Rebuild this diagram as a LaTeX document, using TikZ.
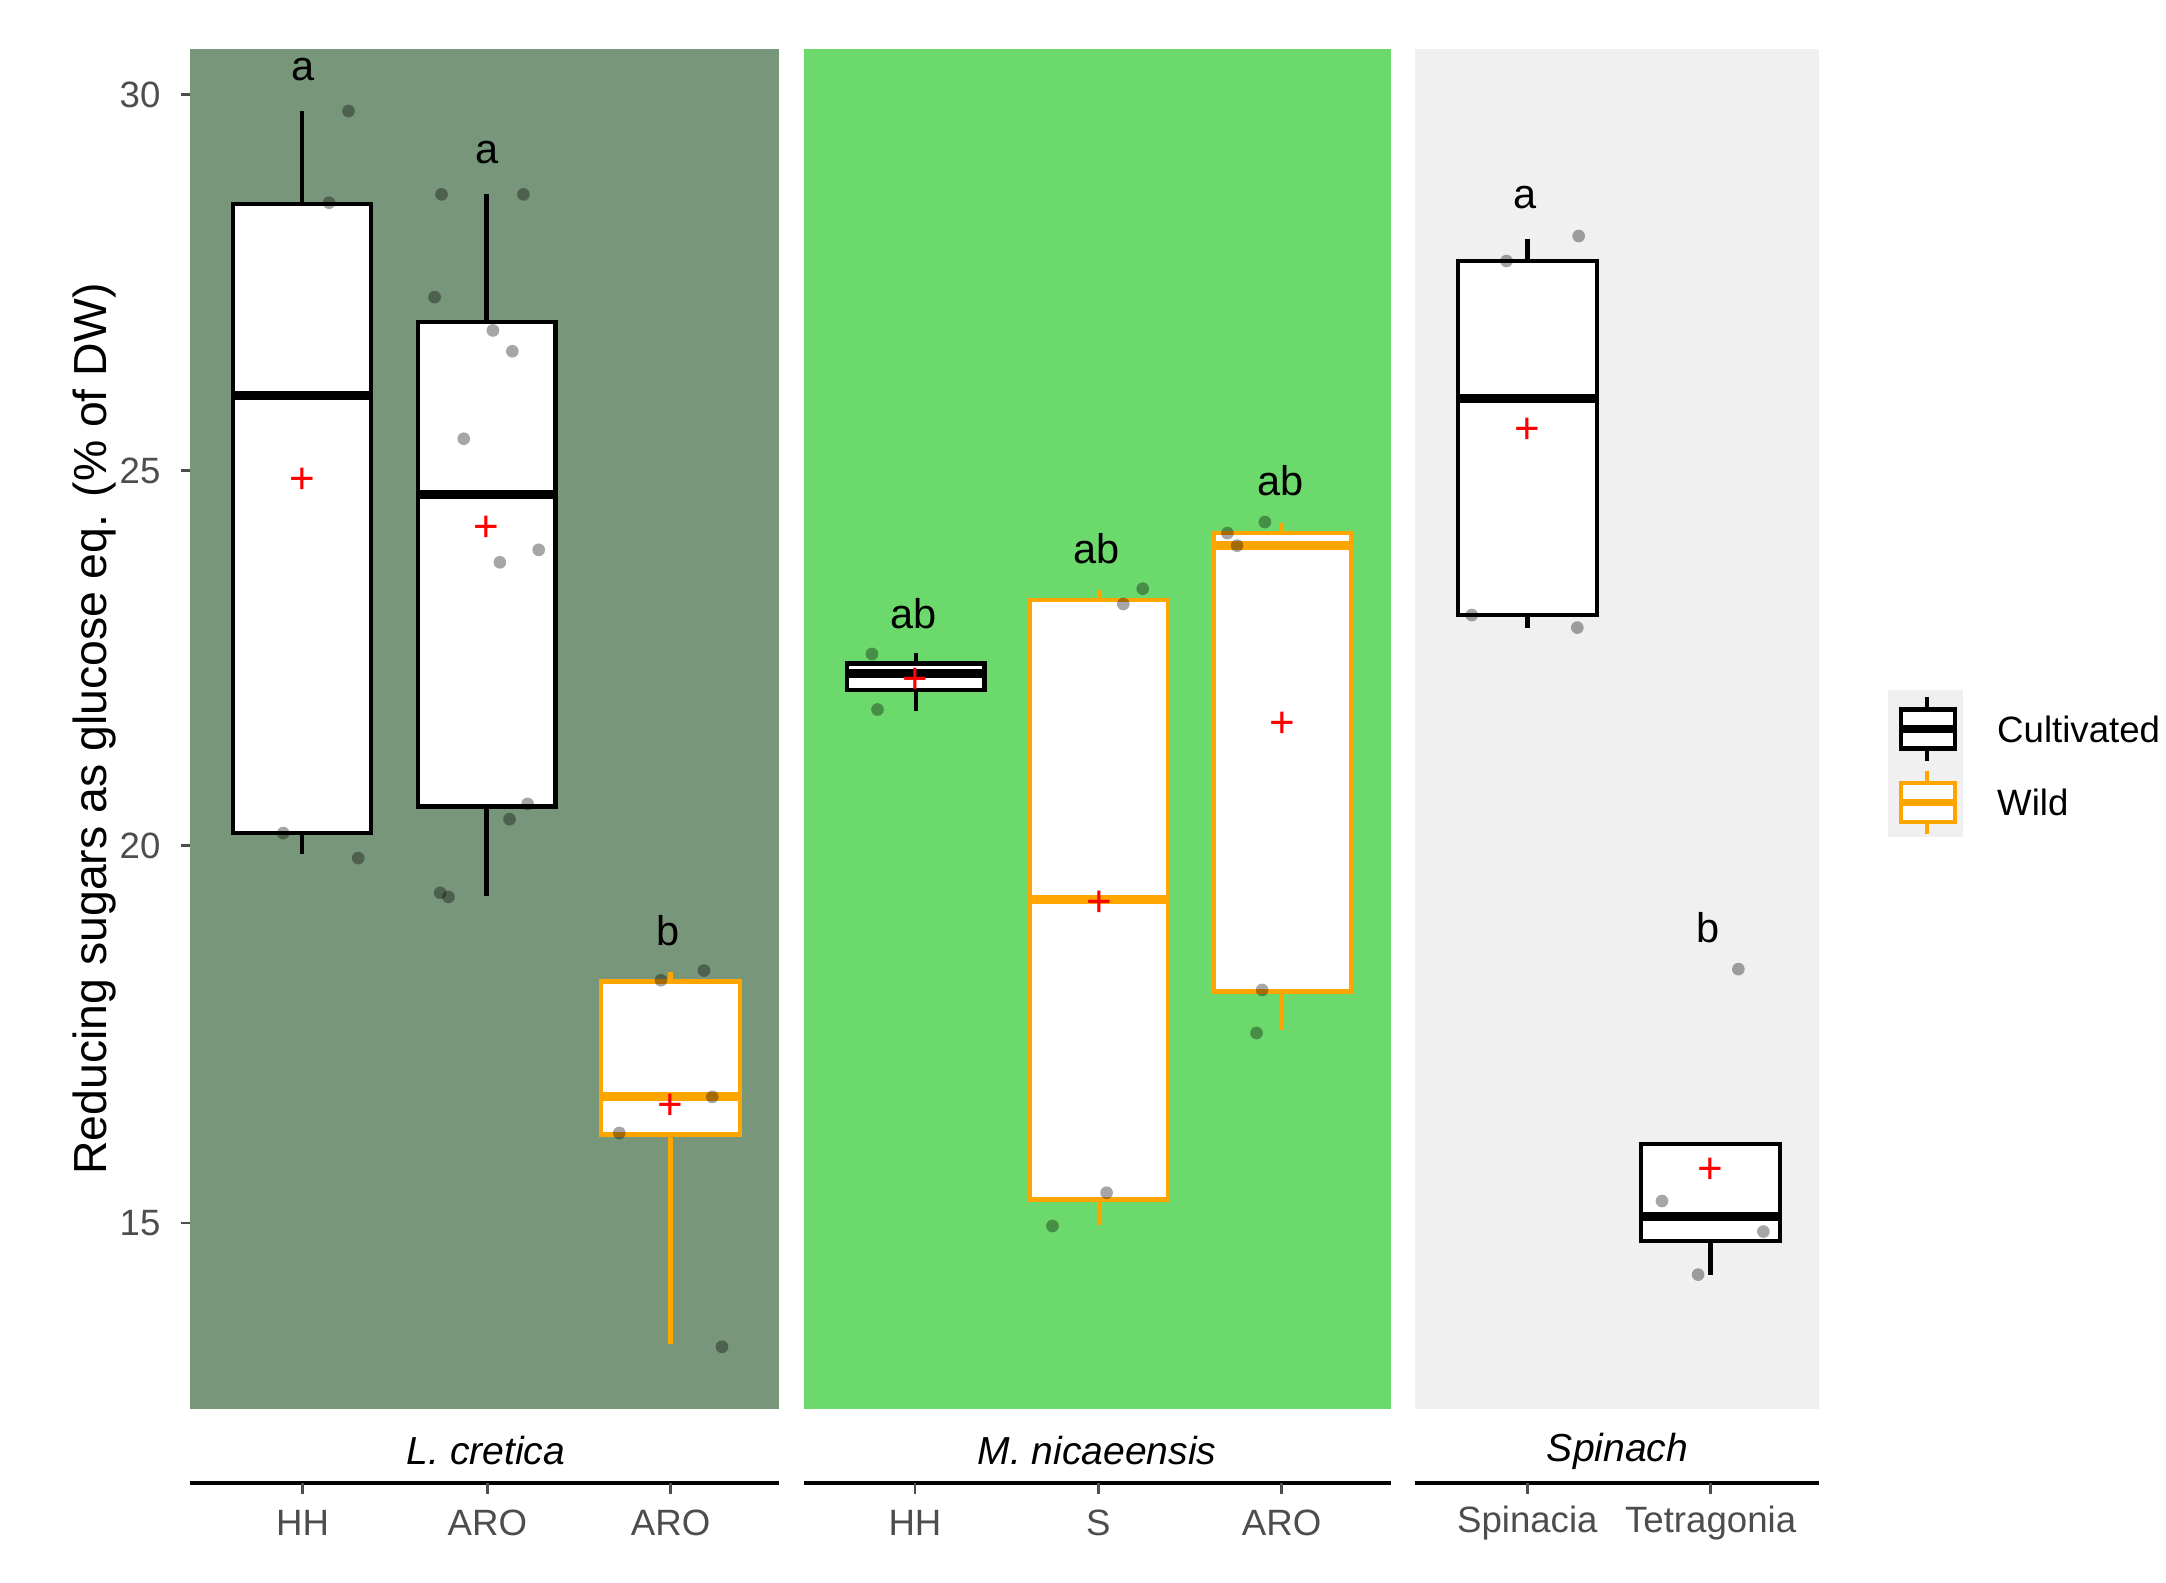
\documentclass[tikz,border=0pt]{standalone}
\usepackage{fontspec}
\setmainfont{Liberation Sans}
\definecolor{pLc}{HTML}{78967A}
\definecolor{pMn}{HTML}{6CD96C}
\definecolor{pSp}{HTML}{F0F0F0}
\definecolor{orw}{HTML}{FFA500}
\definecolor{tickg}{HTML}{4D4D4D}
\newcommand{\bxplot}[9]{%
  \pgfmathsetmacro{\cx}{(#1+#2)/2}
  \draw[line width=0.9pt,#9] (\cx,#3) -- (\cx,#4);
  \draw[line width=0.9pt,#9] (\cx,#6) -- (\cx,#7);
  \draw[line width=0.9pt,#9,fill=white] (#1,#4) rectangle (#2,#6);
  \draw[line width=1.8pt,#9] (#1,#5) -- (#2,#5);
  \node[red,font=\fontsize{9}{9}\selectfont,inner sep=0pt] at (\cx,#8) {+};
}
\tikzset{pt/.style={circle,fill=black,fill opacity=0.35,inner sep=0pt,minimum size=2.6pt},
ltr/.style={font=\fontsize{8.5}{9}\selectfont},
tk/.style={font=\fontsize{7.5}{8}\selectfont,text=tickg}}
\begin{document}
\begin{tikzpicture}[x=0.01cm,y=-0.01cm]
\useasboundingbox (0,0) rectangle (1560,1140);
\fill[pLc] (137,35) rectangle (561,1015);
\fill[pMn] (579,35) rectangle (1002,1015);
\fill[pSp] (1019,35) rectangle (1310,1015);
% y axis ticks
\foreach \v/\yy in {30/68,25/339,20/609,15/881}{
  \draw[tickg,line width=0.5pt] (130,\yy) -- (137,\yy);
  \node[tk,anchor=east] at (128,\yy) {\v};
}
\node[rotate=90,font=\fontsize{9.5}{10}\selectfont] (ylab) at (68,525) {Reducing sugars as glucose eq. (\% of DW)};
% boxes
\bxplot{168}{267}{80}{147}{285}{600}{615}{346}{black}
\bxplot{301}{400}{140}{232}{356}{581}{645}{381}{black}
\bxplot{433}{533}{700}{707}{790}{817}{968}{797}{orw}
\bxplot{610}{709}{470}{478}{485}{497}{512}{490}{black}
\bxplot{742}{841}{425}{432}{648}{864}{882}{651}{orw}
\bxplot{874}{973}{377}{384}{393}{714}{742}{522}{orw}
\bxplot{1050}{1150}{172}{188}{287}{443}{452}{310}{black}
\bxplot{1182}{1282}{824}{824}{876}{894}{918}{843}{black}
% points
\foreach \p in {(251,80),(237,146),(204,600),(258,618),
(318,140),(377,140),(313,214),(355,238),(369,253),(334,316),(388,396),(360,405),(380,579),(367,590),(317,643),(323,646),
(476,706),(507,699),(513,790),(446,816),(520,970),
(628,471),(632,511),(823,424),(809,435),(797,859),(758,883),
(884,384),(911,376),(891,393),(909,713),(905,744),
(1137,170),(1085,188),(1060,443),(1136,452),
(1252,698),(1197,865),(1270,887),(1223,918)}
  \node[pt] at \p {};
% letters
\node[ltr] at (218,50) {a};
\node[ltr] at (351,110) {a};
\node[ltr] at (481,670) {b};
\node[ltr] at (658,442) {ab};
\node[ltr] at (790,395) {ab};
\node[ltr] at (922,346) {ab};
\node[ltr] at (1098,142) {a};
\node[ltr] at (1230,668) {b};
% strips
\node[font=\fontsize{8}{9}\selectfont\itshape] at (350,1045) {L. cretica};
\node[font=\fontsize{8}{9}\selectfont\itshape] at (790,1045) {M. nicaeensis};
\node[font=\fontsize{8}{9}\selectfont\itshape] at (1165,1045) {Spinach};
\draw[line width=0.8pt] (137,1068) -- (561,1068);
\draw[line width=0.8pt] (579,1068) -- (1002,1068);
\draw[line width=0.8pt] (1019,1068) -- (1310,1068);
\foreach \xx/\t in {218/HH,351/ARO,483/ARO,659/HH,791/S,923/ARO,1100/Spinacia,1232/Tetragonia}{
  \draw[tickg,line width=0.5pt] (\xx,1068) -- (\xx,1076);
  \node[tk] at (\xx,1097) {\t};
}
% legend
\fill[pSp] (1360,497) rectangle (1414,603);
\draw[line width=0.9pt] (1388,502) -- (1388,548);
\draw[line width=0.9pt,fill=white] (1369,511) rectangle (1408,539);
\draw[line width=1.6pt] (1369,525) -- (1408,525);
\draw[line width=0.9pt,orw] (1388,555) -- (1388,601);
\draw[line width=0.9pt,orw,fill=white] (1369,564) rectangle (1408,592);
\draw[line width=1.6pt,orw] (1369,578) -- (1408,578);
\node[anchor=west,font=\fontsize{7.5}{8}\selectfont] at (1426,525) {Cultivated};
\node[anchor=west,font=\fontsize{7.5}{8}\selectfont] at (1426,578) {Wild};
\end{tikzpicture}
\end{document}
